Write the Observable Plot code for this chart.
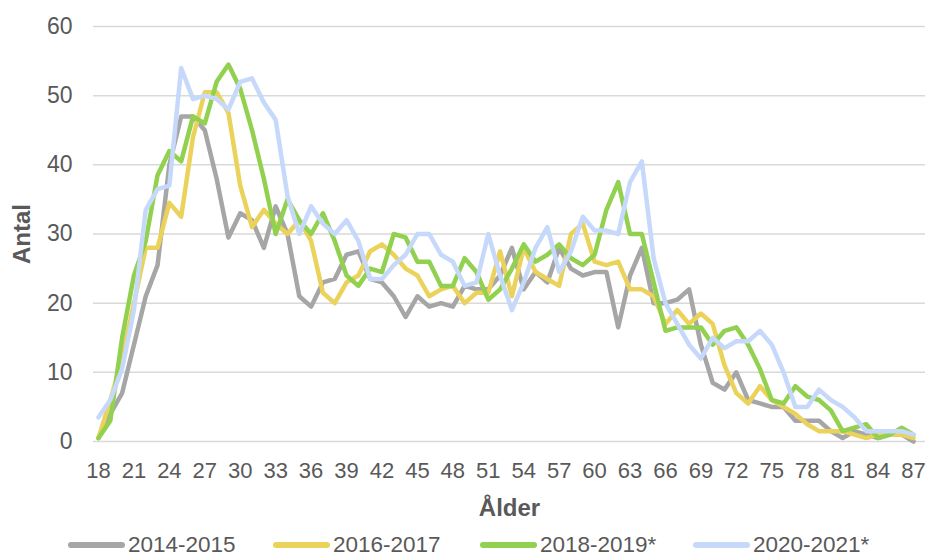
<!DOCTYPE html>
<html>
<head>
<meta charset="utf-8">
<script src="https://cdn.jsdelivr.net/npm/d3@7"></script>
<script src="https://cdn.jsdelivr.net/npm/@observablehq/plot@0.6"></script>
<style>
  body { margin: 0; background: #fff; }
  #chart { width: 934px; height: 559px; position: relative; }
  .legend { position: absolute; left: 0; top: 532px; width: 934px; height: 25px; font-family: "Liberation Sans", Arial, sans-serif; font-size: 22.5px; line-height: 25px; color: #595959; }
  .legend .item { position: absolute; top: 0; display: flex; align-items: center; height: 25px; white-space: nowrap; }
  .legend .sw { width: 57px; height: 6px; border-radius: 3px; margin-right: 3px; }
</style>
</head>
<body>
<div id="chart"></div>
<script>
const ages = d3.range(18, 88);
const seriesNames = ["2014-2015", "2016-2017", "2018-2019*", "2020-2021*"];
const colors = ["#A6A6A6", "#EBD35B", "#92D050", "#C6D9FA"];
const xTicks = d3.range(18, 88, 3);
const yTicks = [0, 10, 20, 30, 40, 50, 60];

const s2014 = [0.5,4,7,14,21,25.5,40,47,47,45,38,29.5,33,32,28,34,30,21,19.5,23,23.5,27,27.5,23.5,23,21,18,21,19.5,20,19.5,22.5,22,22,24,28,22,24.5,23,28,25,24,24.5,24.5,16.5,24,28,20,20,20.5,22,14,8.5,7.5,10,6,5.5,5,5,3,3,3,1.5,0.5,1.5,1,0.5,1,1,0];
const s2016 = [0.5,6,12,20,28,28,34.5,32.5,44,50.5,50.5,47.5,37,31,33.5,31.5,30,32,29,21.5,20,23,24,27.5,28.5,27,25,24,21,22,22.5,20,21.5,21.5,27.5,21,28,24.5,23.5,22.5,30,31.5,26,25.5,26,22,22,21,17,19,17,18.5,17,11,7,5.5,8,6,5,4,2.5,1.5,1.5,1.5,1,0.5,1,1,1,0.5];
const s2018 = [0.5,3,15,24,29,38.5,42,40.5,47,46,52,54.5,51,45,38,30,35,32,30,33,29,24,22.5,25,24.5,30,29.5,26,26,22.5,22.5,26.5,24.5,20.5,22,25,28.5,26,27,28.5,26.5,25.5,27,33.5,37.5,30,30,23,16,16.5,16.5,16.5,14,16,16.5,14,10.5,6,5.5,8,6.5,6,4.5,1.5,2,2.5,0.5,1,2,1];
const s2020 = [3.5,6,10.5,19,33.5,36.5,37,54,49.5,50,49.5,48,52,52.5,49,46.5,35.5,30,34,31.5,30,32,29,23.5,23.5,25.5,27,30,30,27,26,22.5,23,30,24,19,23,28,31,24.5,27.5,32.5,30.5,30.5,30,37.5,40.5,26.5,20,17,14,12,15,13.5,14.5,14.5,16,14,10,5,5,7.5,6,5,3.5,1.5,1.5,1.5,1.5,1];

const allSeries = [s2014, s2016, s2018, s2020];
const data = allSeries.flatMap((vals, i) => vals.map((v, j) => ({age: ages[j], value: v, series: seriesNames[i]})));

const font = "'Liberation Sans', Arial, sans-serif";

const chart = Plot.plot({
  width: 934,
  height: 528,
  marginTop: 26,
  marginBottom: 87,
  marginLeft: 93,
  marginRight: 9,
  insetLeft: 5,
  insetRight: 12,
  style: {fontFamily: font, fontSize: "22px", color: "#595959", background: "white", overflow: "visible"},
  x: {domain: [18, 87]},
  y: {domain: [0, 60]},
  color: {domain: seriesNames, range: colors},
  marks: [
    Plot.gridY(yTicks, {stroke: "#D9D9D9", strokeOpacity: 1, strokeWidth: 1.5}),
    Plot.axisY(yTicks, {tickSize: 0, tickPadding: 21, fontSize: 23, fontFamily: font, fill: "#595959", label: "Antal", labelAnchor: "center", labelArrow: "none", labelOffset: 81}),
    Plot.axisX(xTicks, {tickSize: 0, tickPadding: 21, fontSize: 22, fontFamily: font, fill: "#595959", tickFormat: d => String(d), label: "Ålder", labelAnchor: "center", labelArrow: "none", labelOffset: 74}),
    Plot.line(data, {x: "age", y: "value", z: "series", stroke: "series", strokeWidth: 4.5, strokeLinejoin: "round", strokeLinecap: "round"})
  ]
});

// bold axis labels
d3.select(chart).selectAll("g[aria-label='y-axis label'] text, g[aria-label='x-axis label'] text")
  .attr("font-weight", "bold").attr("font-size", 24).attr("fill", "#595959");

const container = document.getElementById("chart");
container.appendChild(chart);

const legend = document.createElement("div");
legend.className = "legend";
const lefts = [68, 273, 480, 693];
seriesNames.forEach((name, i) => {
  const item = document.createElement("div");
  item.className = "item";
  item.style.left = lefts[i] + "px";
  const sw = document.createElement("div");
  sw.className = "sw";
  sw.style.background = colors[i];
  const t = document.createElement("span");
  t.textContent = name;
  item.appendChild(sw);
  item.appendChild(t);
  legend.appendChild(item);
});
container.appendChild(legend);
</script>
</body>
</html>
